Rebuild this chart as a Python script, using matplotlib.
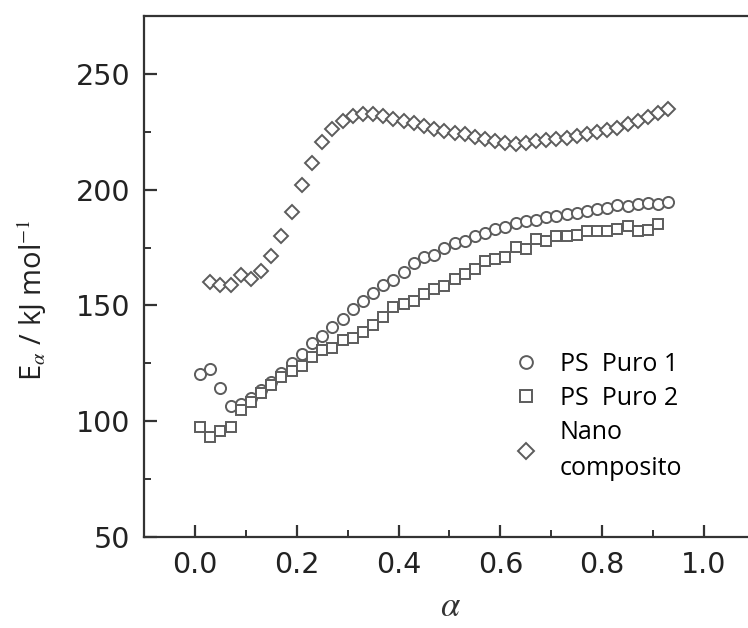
import matplotlib
matplotlib.use("Agg")
import matplotlib.pyplot as plt

# conversion alpha (PS Puro 1 : 0.01 -> 0.93, pas de 0.02)
alpha_ps1 = [0.01, 0.03, 0.05, 0.07, 0.09, 0.11, 0.13, 0.15, 0.17, 0.19,
             0.21, 0.23, 0.25, 0.27, 0.29, 0.31, 0.33, 0.35, 0.37, 0.39,
             0.41, 0.43, 0.45, 0.47, 0.49, 0.51, 0.53, 0.55, 0.57, 0.59,
             0.61, 0.63, 0.65, 0.67, 0.69, 0.71, 0.73, 0.75, 0.77, 0.79,
             0.81, 0.83, 0.85, 0.87, 0.89, 0.91, 0.93]
ea_ps1 = [120.3, 122.4, 114.5, 106.5, 107.5, 110.0, 113.5, 117.0, 121.0, 125.0,
          129.0, 134.0, 137.0, 140.5, 144.0, 148.5, 152.0, 155.5, 159.0, 161.0,
          164.5, 168.5, 170.8, 172.0, 175.0, 177.0, 178.0, 180.0, 181.5, 183.0,
          184.0, 185.8, 186.5, 186.8, 188.0, 188.8, 189.5, 190.0, 190.8, 191.5,
          192.2, 193.5, 192.8, 193.8, 194.3, 194.0, 194.5]

# PS Puro 2 : 0.01 -> 0.91
alpha_ps2 = alpha_ps1[:-1]
ea_ps2 = [97.4, 93.1, 95.7, 97.4, 105.0, 108.5, 112.0, 115.5, 119.0, 121.5,
          124.0, 127.6, 130.6, 131.5, 135.0, 136.0, 138.4, 141.4, 145.0, 149.3,
          150.7, 152.1, 155.0, 157.2, 158.6, 161.5, 163.6, 165.8, 169.4, 170.1,
          170.8, 175.1, 174.4, 178.7, 178.0, 180.2, 180.2, 180.5, 182.3, 182.0,
          182.3, 183.0, 184.5, 182.3, 182.5, 185.2]

# Nanocomposito : 0.03 -> 0.93
alpha_nano = alpha_ps1[1:]
ea_nano = [160.0, 159.0, 159.0, 163.0, 161.6, 165.0, 171.5, 180.0, 190.5,
           202.0, 211.6, 220.7, 226.0, 229.7, 231.9, 232.8, 232.8, 232.0, 230.6,
           229.7, 228.8, 227.5, 226.2, 225.3, 224.4, 224.0, 222.8, 221.8, 221.0,
           220.3, 219.9, 220.3, 221.0, 221.3, 221.8, 222.5, 223.3, 224.2, 224.7,
           225.7, 226.8, 228.3, 229.7, 231.5, 233.3, 234.8]

noms = ["PS  Puro 1", "PS  Puro 2", "Nano\ncomposito"]

plt.rcParams["mathtext.fontset"] = "stix"
gris = "#5c5c5c"
style = dict(linestyle="none", markerfacecolor="white",
             markeredgecolor=gris, markeredgewidth=1.4)

fig = plt.figure(figsize=(7.48, 6.28), dpi=100)
ax = fig.add_axes([0.1925, 0.1449, 0.8168, 0.8296])

ax.plot(alpha_ps1, ea_ps1, marker="o", markersize=8, label=noms[0], **style)
ax.plot(alpha_ps2, ea_ps2, marker="s", markersize=7, label=noms[1], **style)
ax.plot(alpha_nano, ea_nano, marker="D", markersize=6.8, label=noms[2], **style)

ax.set_xlim(-0.1, 1.1)
ax.set_ylim(50, 275)
ax.set_xticks([0.0, 0.2, 0.4, 0.6, 0.8, 1.0])
ax.set_xticks([0.1, 0.3, 0.5, 0.7, 0.9], minor=True)
ax.set_yticks([50, 100, 150, 200, 250])
ax.set_yticks([75, 125, 175, 225], minor=True)

for s in ax.spines.values():
    s.set_linewidth(1.6)
    s.set_color("#333333")
ax.spines["right"].set_visible(False)
ax.tick_params(which="major", direction="in", length=9, width=1.6,
               color="#333333", labelsize=20.5, pad=10, labelcolor="#222222")
ax.tick_params(which="minor", direction="in", length=5, width=1.4,
               color="#333333")
for lab in ax.get_xticklabels() + ax.get_yticklabels():
    lab.set_fontfamily("DejaVu Sans")

ax.set_xlabel(r"$\alpha$", fontsize=25, color="#333333")
ax.xaxis.set_label_coords(0.502, -0.1)
ax.set_ylabel(r"E$_\alpha$ / kJ mol$^{-1}$", fontsize=21,
              fontfamily="Open Sans", color="#222222")
ax.yaxis.set_label_coords(-0.155, 0.455)

leg = ax.legend(loc="upper left", bbox_to_anchor=(0.609, 0.355), frameon=False,
                handlelength=0.8, handletextpad=0.95, labelspacing=0.35,
                borderpad=0, borderaxespad=0, markerscale=1.15,
                prop={"family": "Open Sans", "size": 18})
leg.get_texts()[2].set_linespacing(1.6)

fig.savefig("out.png", dpi=100)
